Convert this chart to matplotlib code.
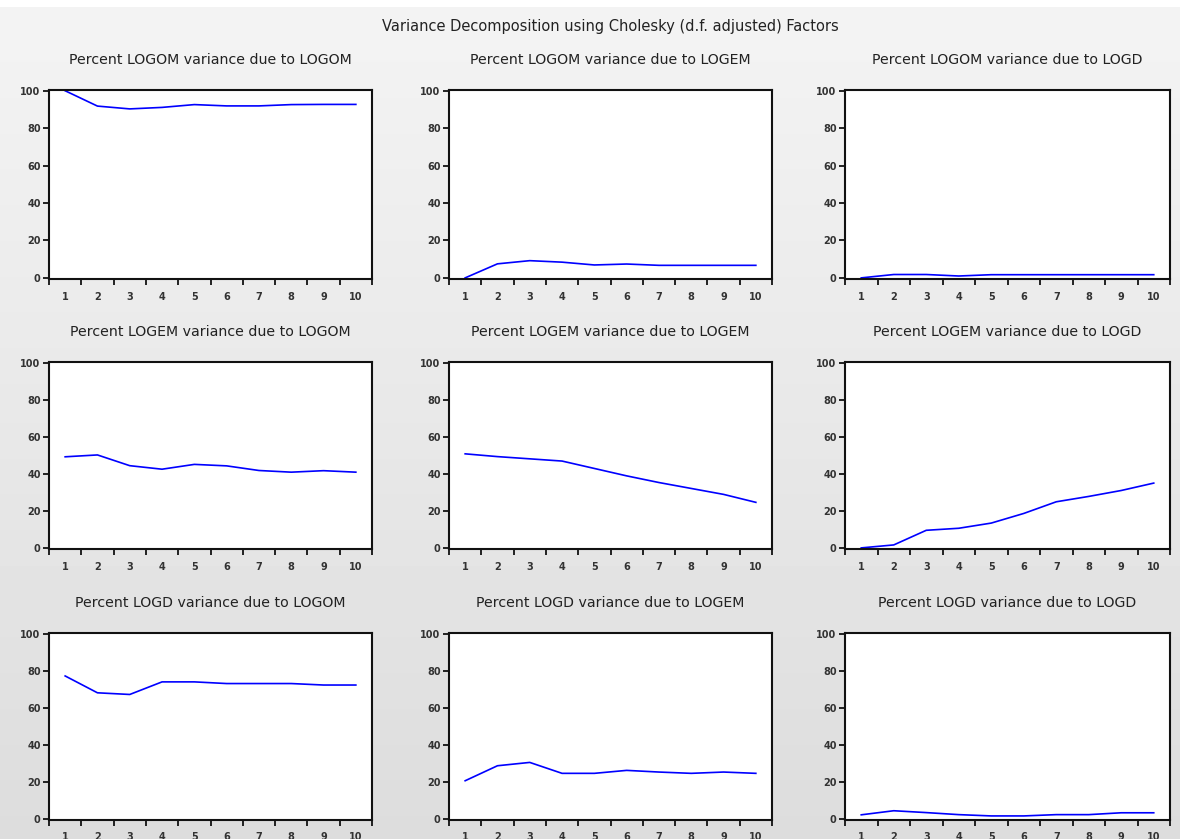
import numpy as np
import matplotlib
matplotlib.use("Agg")
import matplotlib.pyplot as plt

plt.rcParams['font.family'] = ['DejaVu Sans']

periods = np.arange(1, 11)
variables = ["LOGOM", "LOGEM", "LOGD"]

# percent of variance of (row) due to shock in (column)
logom_due_logom = [100.0, 91.8, 90.3, 91.1, 92.6, 91.9, 91.9, 92.6, 92.7, 92.7]
logom_due_logem = [0.0, 7.5, 9.2, 8.4, 6.9, 7.4, 6.7, 6.7, 6.7, 6.7]
logom_due_logd = [0.0, 1.8, 1.8, 1.0, 1.7, 1.7, 1.7, 1.7, 1.7, 1.7]

logem_due_logom = [49.2, 50.2, 44.4, 42.5, 45.1, 44.3, 41.8, 40.9, 41.7, 40.9]
logem_due_logem = [50.8, 49.3, 48.1, 46.9, 42.9, 38.9, 35.3, 32.1, 28.9, 24.6]
logem_due_logd = [0.0, 1.6, 9.5, 10.6, 13.4, 18.6, 24.9, 27.8, 31.0, 35.0]

logd_due_logom = [77.2, 68.1, 67.2, 74.0, 74.0, 73.1, 73.1, 73.1, 72.3, 72.3]
logd_due_logem = [20.6, 28.7, 30.5, 24.6, 24.6, 26.2, 25.3, 24.6, 25.3, 24.6]
logd_due_logd = [2.2, 4.4, 3.4, 2.3, 1.6, 1.6, 2.3, 2.3, 3.3, 3.3]

grid_values = [
    [logom_due_logom, logom_due_logem, logom_due_logd],
    [logem_due_logom, logem_due_logem, logem_due_logd],
    [logd_due_logom, logd_due_logem, logd_due_logd],
]

W, H = 1180, 839
fig = plt.figure(figsize=(W / 100, H / 100), dpi=100)
fig.patch.set_facecolor("white")

# grey gradient background below the thin white strip at the top
bg = fig.add_axes([0, 0, 1, 1 - 7 / H], zorder=-10)
grad = np.linspace(0.955, 0.865, 256).reshape(-1, 1)
bg.imshow(grad, aspect="auto", cmap="gray", vmin=0, vmax=1, extent=[0, 1, 0, 1])
bg.axis("off")

col_left = [49, 449, 845]
col_width = [323, 323, 325]
row_top = [90, 362, 633]
row_bottom = [279, 549, 820]

for r in range(3):
    for c in range(3):
        rect = [col_left[c] / W, 1 - row_bottom[r] / H,
                col_width[c] / W, (row_bottom[r] - row_top[r]) / H]
        ax = fig.add_axes(rect)
        ax.set_facecolor("white")
        ax.plot(periods, grid_values[r][c], color="#0000ff", lw=1.2)
        ax.set_xlim(0.5, 10.5)
        ax.set_ylim(-0.6, 100.4)
        ax.set_yticks(np.arange(0, 101, 20))
        ax.set_xticks(np.arange(0.5, 11, 1))
        ax.set_xticklabels([])
        ax.set_xticks(periods, minor=True)
        ax.set_xticklabels([str(p) for p in periods], minor=True)
        ax.tick_params(axis="x", which="minor", length=0, pad=9, labelsize=7)
        ax.tick_params(axis="x", which="major", length=4, width=1.2, direction="out")
        ax.tick_params(axis="y", length=4, width=1.2, direction="out", labelsize=7, pad=2)
        for lab in ax.get_xticklabels(minor=True) + ax.get_yticklabels():
            lab.set_fontweight("bold")
            lab.set_color("#333333")
        for sp in ax.spines.values():
            sp.set_linewidth(1.5)
            sp.set_color("#111111")
        title = f"Percent {variables[r]} variance due to {variables[c]}"
        ax.text(0.5, 1 + 30 / (row_bottom[r] - row_top[r]), title,
                transform=ax.transAxes, ha="center", va="center",
                fontsize=10.2, color="#222222")

fig.text(610 / W, 1 - 26 / H,
         "Variance Decomposition using Cholesky (d.f. adjusted) Factors",
         ha="center", va="center", fontsize=10.5, color="#222222")

fig.savefig("out.png", dpi=100)
